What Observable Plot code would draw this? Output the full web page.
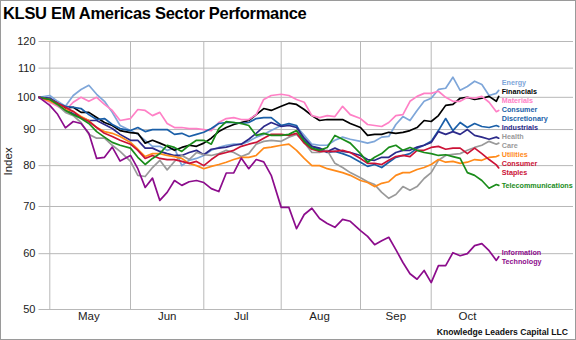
<!DOCTYPE html>
<html><head><meta charset="utf-8">
<script src="https://cdn.jsdelivr.net/npm/d3@7"></script>
<script src="https://cdn.jsdelivr.net/npm/@observablehq/plot@0.6"></script>
<style>
html,body{margin:0;padding:0;background:#fff;}
#wrap{position:relative;width:576px;height:340px;overflow:hidden;font-family:"Liberation Sans",Arial,sans-serif;background:#fff;}
#title{position:absolute;left:3px;top:3px;font-size:16.5px;font-weight:bold;letter-spacing:-0.3px;color:#000;line-height:20px;white-space:nowrap;}
#chart{position:absolute;left:0;top:30px;}
#caption{position:absolute;right:8px;top:327px;font-size:8.6px;font-weight:bold;color:#111;line-height:10px;white-space:nowrap;}
#border{position:absolute;left:0;top:0;width:576px;height:340px;box-sizing:border-box;border:1px solid #9a9a9a;pointer-events:none;}
</style></head>
<body><div id="wrap"><div id="title">KLSU EM Americas Sector Performance</div><div id="chart"></div><div id="caption">Knowledge Leaders Capital LLC</div><div id="border"></div></div>
<script>
const dates = [
"2016-04-27","2016-05-01","2016-05-04","2016-05-07","2016-05-10","2016-05-13","2016-05-16","2016-05-19","2016-05-22","2016-05-25","2016-05-28",
"2016-06-01","2016-06-04","2016-06-07","2016-06-10","2016-06-13","2016-06-16","2016-06-19","2016-06-22","2016-06-25","2016-06-28",
"2016-07-01","2016-07-04","2016-07-07","2016-07-10","2016-07-13","2016-07-16","2016-07-19","2016-07-22","2016-07-25","2016-07-28",
"2016-08-01","2016-08-04","2016-08-07","2016-08-10","2016-08-13","2016-08-16","2016-08-19","2016-08-22","2016-08-25","2016-08-28",
"2016-09-01","2016-09-04","2016-09-07","2016-09-10","2016-09-13","2016-09-16","2016-09-19","2016-09-22","2016-09-25","2016-09-28",
"2016-10-01","2016-10-04","2016-10-07","2016-10-10","2016-10-13","2016-10-16","2016-10-19","2016-10-22","2016-10-25","2016-10-28","2016-10-29"];

const energy = [100,100.6,98.7,97.1,100.6,102.6,104,101,98.7,95.2,91.2,
89.7,88.6,86.9,85.2,85.2,84.1,84.7,80,81.4,81.9,
82.7,84.1,84.9,85.5,85.8,85.8,86.6,87.8,88.6,89.7,
91.2,91.5,90.9,88.3,85.8,85.5,85.5,86.9,87.8,87.2,
86.6,86.1,86.6,87.8,88,91.5,93.9,92.7,95.8,98.7,
99.7,102.6,103,106.8,102.3,103.6,105.4,104.3,100.6,101.3,102.3];

const financials = [100,99.3,98,96.5,96.8,95.2,95.2,93.6,92.1,91.2,89.7,
89.1,88.9,86.1,86.9,86.1,85.2,84.1,84.9,85.5,85.2,
86.1,87.5,89.4,90.6,91.5,92.1,92.7,94.5,96.4,95.8,
97.1,98.1,97.7,96.1,94.2,92.7,93,93,93,91.8,
90.6,88.3,88.6,88.6,89.2,88.9,89.2,89.7,90.6,92.7,
92.4,94.2,97.4,97.7,99.7,100,99.3,99.7,100.3,98.7,100.3];

const materials = [100,98.4,97.1,95.8,98.4,100,98.7,100,97.7,95.8,92.7,
93.3,96.1,95.8,94.2,95.2,91.8,90.6,90.6,90.3,90.3,
90,89.7,92.1,93.3,93.6,93,93,94.5,99.3,100.6,
101,100.6,99.3,98.4,94.2,93.6,94.2,93.9,97.1,94.5,
93.3,91.5,91.2,90.9,92.1,94.2,94.5,98.7,100.3,101.3,
101.3,102,100,98.7,98.7,100,99.7,100.3,98.4,95.4,95.8];

const consDisc = [100,99.7,98.1,97.1,96.8,96.4,94.5,93,93.3,91.5,90.3,
89.7,90.6,89.4,90,90,90,88.6,88.9,88,88.6,
89.2,90.3,91.8,92.1,92.1,91.8,92.1,93.3,93.6,93.6,
91.2,91.8,91.2,86.9,85.2,84.4,83.5,83.8,83.2,82.4,
80.9,79.8,80.3,79.5,80.9,82.2,82.7,83.2,84.7,85.5,
86.6,89.7,93.3,89.7,92.1,90.6,91.8,90.9,90.6,91.2,90.9];

const industrials = [100,99.7,98.1,96.1,94.8,93.6,92.7,92.7,91.5,90.3,88.6,
86.9,86.9,84.7,84.7,83.8,83.2,82.7,82.7,83.5,84.1,
82.9,84.4,84.7,85,85.5,85.8,87.2,88.9,90.9,92.1,
90.9,91.2,90.6,87.5,85.2,84.7,83.8,84.7,83.8,83.5,
82.7,81.6,81.4,82.2,82.2,83.5,84.1,84.1,85,85.5,
86.3,89.4,88.6,89.4,88.6,90,88.3,87.8,87.2,87.8,87.5];

const healthCare = [100,99.3,97.4,95.2,94.2,92.1,88.6,87.5,87.5,85.5,83.8,
81.1,77.5,77.2,79.5,81.4,78.9,81.1,82.7,81.6,83.5,
82.9,82.7,83.2,84.1,83.5,82.4,83.2,85.8,86.6,86.9,
86.6,87.8,88.6,86.3,83.5,83.5,84.1,80.6,79.5,78.2,
76.9,75.9,75.2,73.3,71.9,72.8,74.7,73.8,74.7,76.7,
78.2,81.4,82.7,83,83.2,84.1,84.9,85.5,86.6,85.8,86.1];

const utilities = [100,98.7,97.7,96.1,95.5,93.9,92.7,90.6,89.4,88.9,88,
86.3,84.4,82.4,83.2,83.2,82.7,82.4,81.9,80.6,80,
79.2,79.8,80.3,80.9,81.6,82.2,82.2,82.7,84.7,85,
85.5,85.8,84.1,81.9,80,80,79.2,78.7,78.2,77.5,
76.2,75.7,74.7,75.5,75.9,77.5,78.2,78.2,79,79.5,
80.3,81.6,80.9,81.1,80.6,80.9,81.6,81.4,82.2,82.4,82.7];

const consStaples = [100,99.3,98.1,96.8,95.5,93.6,92.4,90.6,88.9,88,86.9,
85.8,84.1,81.9,82.7,81.9,81.6,81.6,81.1,80.6,81.1,
80,81.6,83,83.5,84.1,85.2,85.8,86.3,87.5,88.6,
88.6,88.3,88.9,86.1,84.4,83.8,83.8,83.8,84.1,83.5,
81.9,80.6,80.6,80.3,81.4,82.4,82.7,82.4,84.1,84.1,
84.9,85.2,84.4,84.7,84.7,83.2,84.7,83.2,81.6,80.2,79.4];

const telecom = [100,99.3,97.7,95.8,94.5,93.3,91.8,89.4,87.8,86.3,85.5,
84.7,82.2,80.3,81.9,83.2,85.5,84.9,83.8,85.5,86.9,
86.9,85.8,90.3,92.4,92.1,91.8,91.2,88.3,88.9,88.3,
88.3,88.6,89.7,86.6,84.7,84.1,84.9,88.3,87.2,86.1,
83.2,80.9,82.2,83.2,84.9,85.5,84.1,84.9,84.1,83.5,
83.2,82.7,82.9,82.4,81.9,78.2,77.5,76.2,74.3,75.2,75];

const infoTech = [100,97.4,94.6,90.5,92.4,91.8,88.9,81.9,82.2,85,81.2,
82.7,79.2,74.5,76.8,71.4,73.3,76.2,75,75.9,76.2,
75.7,74.2,73.5,78.1,78.1,82,79.2,81.6,81,77.5,
69.8,69.8,65.1,68.2,69.6,67.3,66.2,65.4,67.1,66.7,
64.7,63.5,61.8,62.6,63.3,60.8,58.3,56.2,55.2,56.8,
54.6,57.7,57.7,60.2,59.6,60,61.6,62,60.6,58.7,59.4];

const sectorLabels = ["Energy","Financials","Materials","Consumer\nDiscretionary","Industrials","Health\nCare","Utilities","Consumer\nStaples","Telecommunications","Information\nTechnology"];
const seriesValues = [energy, financials, materials, consDisc, industrials, healthCare, utilities, consStaples, telecom, infoTech];
const yTicks = [50,60,70,80,90,100,110,120];
const monthStarts = ["2016-05-01","2016-06-01","2016-07-01","2016-08-01","2016-09-01","2016-10-01"];
const monthLabelDates = ["2016-05-16","2016-06-16","2016-07-16","2016-08-16","2016-09-16","2016-10-16"];

// styles
const palette = ["#7ea6d9","#000000","#ff80c6","#1a5fa8","#2c2a8a","#9a9a9a","#ff8a1a","#cc1236","#1a8c1a","#8c0c8c"];

const parse = d3.utcParse("%Y-%m-%d");
const xDomain = ["2016-04-27","2016-05-01","2016-06-01","2016-07-01","2016-08-01","2016-09-01","2016-10-01","2016-11-29"].map(parse);
const xRange = [38.5,49.3,130,203.3,280.7,360,430.7,573];
const H = 310, mTop = 11, mBottom = 31;

const lastDate = parse(dates[dates.length - 1]);
const yPix = d3.scaleLog().domain([50,120]).range([H - mBottom, mTop]);
const lineH = 9;
const items = sectorLabels.map((lab, i) => ({label: lab, i, v: seriesValues[i][seriesValues[i].length - 1], n: lab.split("\n").length}));
const sorted = items.slice().sort((a, b) => yPix(b.v) - yPix(a.v));
let limit = Infinity;
for (const it of sorted) {
  const h = it.n * lineH;
  let c = yPix(it.v);
  if (c + h / 2 > limit) c = limit - h / 2;
  it.yv = yPix.invert(c);
  limit = c - h / 2;
}

const marks = [
  Plot.ruleY(yTicks, {y: d => d, x1: () => xDomain[0], x2: () => xDomain[xDomain.length - 1], stroke: "#b8b8b8", strokeWidth: 1}),
  Plot.ruleX(monthStarts.map(parse), {stroke: "#b8b8b8", strokeWidth: 1}),
  Plot.axisY(yTicks, {anchor: "left", tickSize: 0, tickPadding: 3, fontSize: 11, tickFormat: d => String(d), fill: "#222"}),
  Plot.axisX(monthLabelDates.map(parse), {anchor: "bottom", tickSize: 0, tickPadding: 2, fontSize: 11.5, tickFormat: d3.utcFormat("%b"), fill: "#222"}),
  Plot.text(["Index"], {frameAnchor: "left", text: d => d, rotate: -90, dx: -30, fontSize: 11.5, fill: "#222"})
];
seriesValues.forEach((vals, i) => {
  const rows = vals.map((v, k) => ({date: parse(dates[k]), value: v}));
  marks.push(Plot.line(rows, {x: "date", y: "value", stroke: palette[i], strokeWidth: 1.7, strokeLinejoin: "round", strokeLinecap: "round"}));
});
items.forEach(it => {
  marks.push(Plot.text([it], {x: () => lastDate, y: "yv", text: "label", fill: palette[it.i], dx: 3, textAnchor: "start", lineAnchor: "middle", lineHeight: 1.25, fontSize: 7.2, fontWeight: "bold"}));
});

const chart = Plot.plot({
  width: 576,
  height: H,
  marginTop: mTop,
  marginBottom: mBottom,
  marginLeft: 38,
  marginRight: 3,
  style: {fontFamily: "'Liberation Sans', Arial, sans-serif", background: "transparent", color: "#222"},
  x: {type: "utc", domain: xDomain, range: xRange},
  y: {type: "log", domain: [50, 120]},
  marks
});
document.getElementById("chart").appendChild(chart);
</script></body></html>
